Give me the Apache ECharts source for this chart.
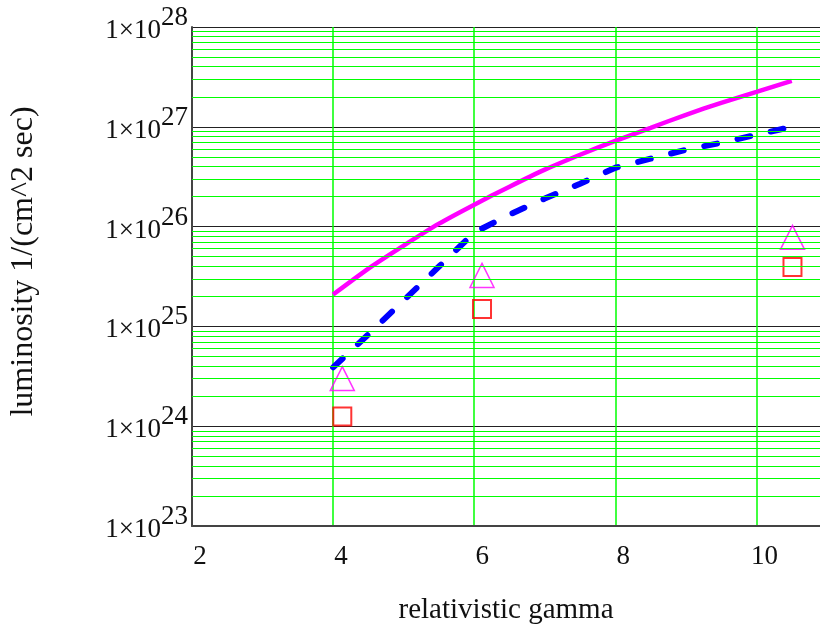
<html lang="en">
<head>
    <meta charset="UTF-8">
    <title>luminosity vs gamma</title>
    <style>
        html, body { margin: 0; padding: 0; background: #fff; }
        #echart { width: 820px; height: 630px; }
    </style>
</head>
<body>
<div id="echart"></div>
<script src="https://cdn.jsdelivr.net/npm/echarts@6/dist/echarts.min.js"></script>
<script>
    // curve samples
    const gamma = [4, 4.5, 5, 5.5, 6, 6.5, 7, 7.5, 8, 8.5, 9, 9.5, 10, 10.5]
    const lumSolid = [2.09e25, 3.80e25, 6.46e25, 1.07e26, 1.66e26, 2.51e26, 3.72e26,
        5.25e26, 7.24e26, 9.77e26, 1.32e27, 1.74e27, 2.24e27, 2.88e27]
    const lumDashed = [3.89e24, 8.32e24, 1.82e25, 3.98e25, 8.71e25, 1.32e26, 1.91e26,
        2.69e26, 3.89e26, 4.79e26, 5.89e26, 6.92e26, 8.32e26, 1.00e27]

    // measured points
    const gammaPts = [4.13, 6.11, 10.51]
    const lumTriangles = [3.0e24, 3.24e25, 7.8e25]
    const lumSquares = [1.25e24, 1.49e25, 3.94e25]

    // minor grid values (2..9 in each decade)
    const decades = [23, 24, 25, 26, 27]
    const minorGrid = []
    decades.forEach(d => {
        for (let m = 2; m <= 9; m++) minorGrid.push(m * Math.pow(10, d))
    })

    const font = 'Liberation Serif'
    const echart = echarts.init(document.getElementById('echart'))

    // log axis shared settings; second copy only carries the exponents
    const logAxis = {
        type: 'log',
        logBase: 10,
        min: 1e23,
        max: 1e28,
        splitNumber: 5,
        axisTick: { show: false }
    }

    echart.setOption({
        animation: false,
        grid: { left: 191, right: 0, top: 27, bottom: 103 },
        xAxis: {
            type: 'value',
            min: 2,
            max: 10.9,
            interval: 2,
            name: 'relativistic gamma',
            nameLocation: 'middle',
            nameGap: 70,
            nameTextStyle: { fontFamily: font, fontSize: 29, color: '#111' },
            axisLine: { show: true, lineStyle: { color: '#444', width: 2 } },
            axisTick: { show: false },
            axisLabel: {
                showMaxLabel: false,
                margin: 17,
                padding: [0, 0, 0, 16],
                fontFamily: font,
                fontSize: 27,
                color: '#111'
            },
            splitLine: { show: true, showMaxLine: false, lineStyle: { color: '#00ff00', width: 1.5 } }
        },
        yAxis: [Object.assign({}, logAxis, {
            name: 'luminosity 1/(cm^2 sec)',
            nameLocation: 'middle',
            nameGap: 152,
            nameTextStyle: { fontFamily: font, fontSize: 32, color: '#111', padding: [0, 0, 0, 30] },
            axisLine: { show: true, lineStyle: { color: '#444', width: 2 } },
            axisLabel: {
                margin: 31,
                verticalAlign: 'top',
                lineHeight: 8,
                formatter: () => '1×10',
                fontFamily: font,
                fontSize: 27,
                color: '#111'
            },
            splitLine: { show: true, lineStyle: { color: '#222', width: 1 } }
        }), Object.assign({}, logAxis, {
            position: 'left',
            axisLine: { show: false },
            splitLine: { show: false },
            axisLabel: {
                margin: 4,
                verticalAlign: 'bottom',
                lineHeight: 18,
                formatter: v => String(Math.round(Math.log10(v))),
                fontFamily: font,
                fontSize: 27,
                color: '#111'
            }
        })],
        series: [{
            type: 'line',
            data: [],
            z: 1,
            silent: true,
            markLine: {
                silent: true,
                symbol: 'none',
                animation: false,
                label: { show: false },
                lineStyle: { color: '#00ff00', width: 1, type: 'solid' },
                data: minorGrid.map(v => ({ yAxis: v }))
            }
        }, {
            type: 'line',
            name: 'solid',
            z: 3,
            showSymbol: false,
            smooth: 0.2,
            data: gamma.map((g, i) => [g, lumSolid[i]]),
            lineStyle: { color: '#ff00ff', width: 4.5 }
        }, {
            type: 'line',
            name: 'dashed',
            z: 3,
            showSymbol: false,
            data: gamma.map((g, i) => [g, lumDashed[i]]),
            lineStyle: { color: '#0000ff', width: 6, type: [13, 21], cap: 'round' }
        }, {
            type: 'scatter',
            name: 'triangles',
            z: 4,
            symbol: 'triangle',
            symbolSize: 24,
            data: gammaPts.map((g, i) => [g, lumTriangles[i]]),
            itemStyle: { color: 'rgba(0,0,0,0)', borderColor: '#ff00ff', borderWidth: 1.5 }
        }, {
            type: 'scatter',
            name: 'squares',
            z: 4,
            symbol: 'rect',
            symbolSize: 18,
            data: gammaPts.map((g, i) => [g, lumSquares[i]]),
            itemStyle: { color: 'rgba(0,0,0,0)', borderColor: '#ff0000', borderWidth: 2 }
        }]
    })
</script>
</body>
</html>
